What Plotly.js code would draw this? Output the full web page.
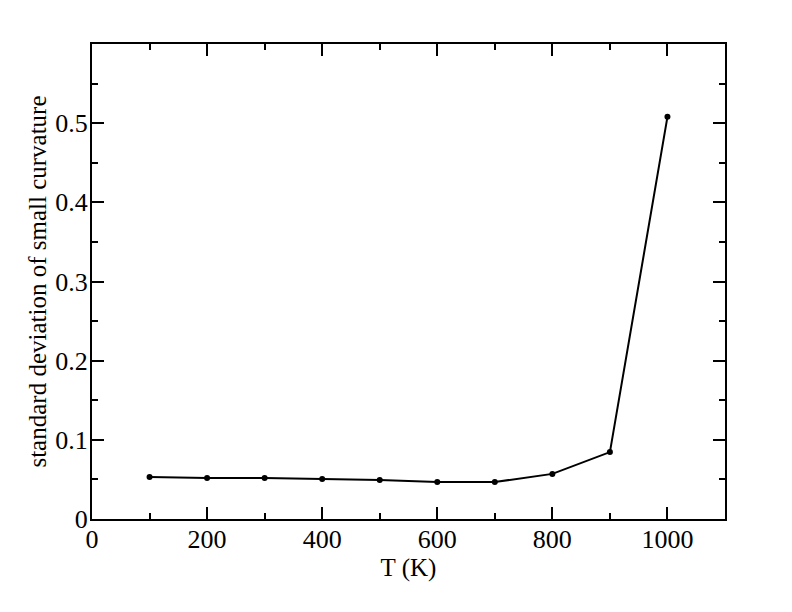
<!DOCTYPE html>
<html>
<head>
<meta charset="utf-8">
<script src="https://cdn.plot.ly/plotly-3.0.1.min.js"></script>
<style>html,body{margin:0;padding:0;background:#fff;}#chart{width:792px;height:612px;}</style>
</head>
<body>
<div id="chart"></div>
<script>
const temperatures = [100, 200, 300, 400, 500, 600, 700, 800, 900, 1000];
const stdDevCurvature = [0.053, 0.0517, 0.0517, 0.0504, 0.0493, 0.0468, 0.0467, 0.057, 0.0845, 0.508];
const xTickVals = [0, 200, 400, 600, 800, 1000];
const yTickVals = [0, 0.1, 0.2, 0.3, 0.4, 0.5];
const yTickText = ["0", "0.1", "0.2", "0.3", "0.4", "0.5"];

const FAMILY = "Liberation Serif";

const trace = {
  x: temperatures,
  y: stdDevCurvature,
  mode: "lines+markers",
  line: {color: "#000", width: 2},
  marker: {color: "#000", size: 6, symbol: "circle"},
  showlegend: false
};

function axisCommon() {
  return {
    showline: true, linecolor: "#000", linewidth: 2, mirror: "allticks",
    ticks: "inside", ticklen: 12, tickwidth: 2, tickcolor: "#000",
    showgrid: false, zeroline: false,
    tickfont: {family: FAMILY, size: 26, color: "#000"}
  };
}

const layout = {
  width: 792, height: 612,
  margin: {l: 92, r: 67, t: 44, b: 93},
  paper_bgcolor: "#fff", plot_bgcolor: "#fff",
  font: {family: FAMILY, size: 25, color: "#000"},
  xaxis: Object.assign(axisCommon(), {
    range: [0, 1100], tickmode: "array", tickvals: xTickVals,
    ticklabelstandoff: -4,
    minor: {dtick: 100, ticks: "inside", ticklen: 6, tickwidth: 2, tickcolor: "#000", showgrid: false},
    title: {text: "T (K)", font: {family: FAMILY, size: 25, color: "#000"}, standoff: 0}
  }),
  yaxis: Object.assign(axisCommon(), {
    range: [0, 0.6], tickmode: "array", tickvals: yTickVals, ticktext: yTickText,
    ticklabelstandoff: -3,
    minor: {dtick: 0.05, ticks: "inside", ticklen: 6, tickwidth: 2, tickcolor: "#000", showgrid: false},
    title: {text: "standard deviation of small curvature", font: {family: FAMILY, size: 25, color: "#000"}, standoff: 2}
  })
};

Plotly.newPlot("chart", [trace], layout, {displayModeBar: false, staticPlot: true});
</script>
</body>
</html>
